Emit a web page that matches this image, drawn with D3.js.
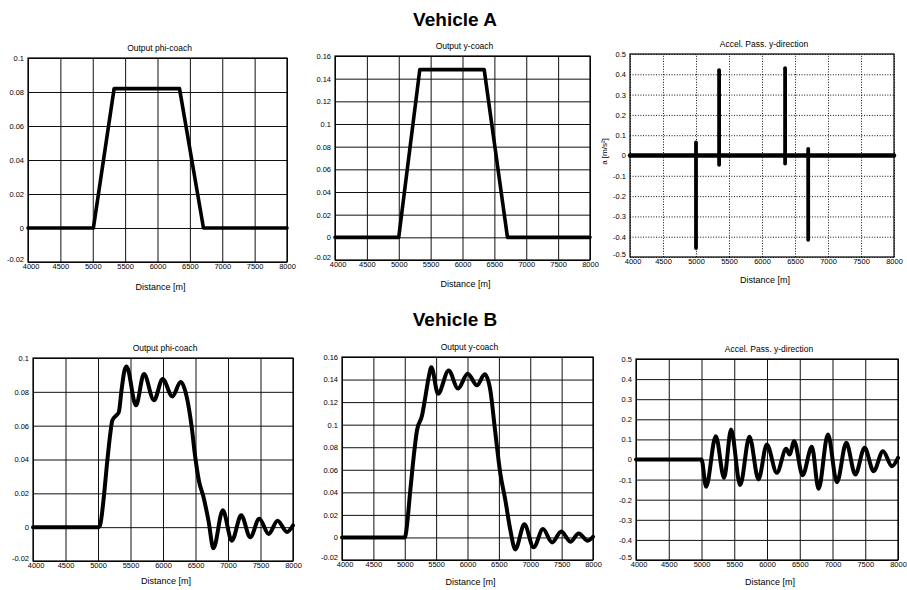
<!DOCTYPE html>
<html><head><meta charset="utf-8">
<script src="https://cdn.jsdelivr.net/npm/d3@7"></script>
<style>
body{margin:0;background:#fff;}
svg text{font-family:"Liberation Sans",Arial,Helvetica,sans-serif;fill:#000;}
</style>
</head><body>
<svg id="c" width="907" height="590"></svg>
<script>
// ---- tick values ----
const xTicks = [4000, 4500, 5000, 5500, 6000, 6500, 7000, 7500, 8000];
const phiTicks = [-0.02, 0, 0.02, 0.04, 0.06, 0.08, 0.1];
const yCoachTicks = [-0.02, 0, 0.02, 0.04, 0.06, 0.08, 0.1, 0.12, 0.14, 0.16];
const accTicks = [-0.5, -0.4, -0.3, -0.2, -0.1, 0, 0.1, 0.2, 0.3, 0.4, 0.5];

// ---- Vehicle A ----
const phiA_x = [4000, 5010, 5330, 6340, 6710, 8000];
const phiA_y = [0, 0, 0.082, 0.082, 0, 0];
const yA_x = [4000, 5000, 5330, 6340, 6705, 8000];
const yA_y = [0, 0, 0.148, 0.148, 0, 0];
const accA_x = [4000, 8000];
const accA_y = [0, 0];
const spikeA_x = [5000, 5350, 6350, 6700];
const spikeA_hi = [0.064, 0.42, 0.43, 0.033];
const spikeA_lo = [-0.456, -0.046, -0.04, -0.415];

// ---- Vehicle B ----
const phiB_x = [4000, 5000, 5030, 5090, 5140, 5195, 5220, 5280, 5320, 5362, 5410, 5440, 5584, 5707, 5861, 5995, 6144, 6272, 6365, 6442, 6494, 6555, 6622, 6699, 6776, 6920, 7059, 7203, 7342, 7481, 7625, 7763, 7907, 8000];
const phiB_y = [0, 0, 0.001, 0.018, 0.038, 0.057, 0.063, 0.066, 0.068, 0.081, 0.093, 0.095, 0.072, 0.0905, 0.075, 0.0876, 0.0773, 0.0858, 0.077, 0.059, 0.042, 0.027, 0.018, 0.004, -0.0125, 0.010, -0.008, 0.007, -0.006, 0.005, -0.004, 0.0038, -0.0028, 0.001];
const yB_x = [4000, 5000, 5009, 5089, 5142, 5195, 5275, 5328, 5381, 5424, 5530, 5700, 5849, 6003, 6151, 6274, 6364, 6433, 6523, 6603, 6683, 6762, 6906, 7054, 7203, 7347, 7495, 7639, 7772, 7915, 8000];
const yB_y = [0, 0, 0.001, 0.042, 0.0714, 0.095, 0.108, 0.1245, 0.142, 0.151, 0.1274, 0.148, 0.132, 0.1452, 0.135, 0.1446, 0.1304, 0.098, 0.0567, 0.0331, 0.0065, -0.0106, 0.0116, -0.0088, 0.0074, -0.0044, 0.0053, -0.0038, 0.0036, -0.0029, 0.0006];
const accB_x = [4000, 5000, 5070, 5218, 5345, 5452, 5590, 5732, 5870, 5997, 6150, 6293, 6344, 6415, 6543, 6685, 6787, 6930, 7068, 7210, 7348, 7490, 7628, 7771, 7908, 8000];
const accB_y = [0, 0, -0.136, 0.116, -0.091, 0.149, -0.127, 0.113, -0.099, 0.0745, -0.066, 0.053, 0.025, 0.091, -0.078, 0.063, -0.146, 0.124, -0.113, 0.083, -0.075, 0.058, -0.058, 0.041, -0.033, 0.008];

const svg = d3.select('#c');
svg.append('rect').attr('width', 907).attr('height', 590).attr('fill', '#fff');

const fmtY = v => String(+v.toFixed(2));

function panel(p) {
  const w = p.r - p.l, h = p.b - p.t;
  const g = svg.append('g').attr('transform', `translate(${p.l},${p.t})`);
  const x = d3.scaleLinear().domain([4000, 8000]).range([0, w]);
  const y = d3.scaleLinear().domain([p.ticks[0], p.ticks[p.ticks.length - 1]]).range([h, 0]);
  const dash = p.dotted ? '1,1.6' : null;

  const gx = g.append('g').attr('transform', `translate(0,${h})`)
    .call(d3.axisBottom(x).tickValues(xTicks).tickSize(-h).tickPadding(2).tickFormat(d3.format('d')));
  gx.select('.domain').remove();
  gx.selectAll('line').attr('stroke', '#111').attr('stroke-width', 1).attr('stroke-dasharray', dash);
  gx.selectAll('text').attr('font-size', 7.5).attr('fill', '#000');
  gx.selectAll('.tick').filter(d => d === 4000).select('text').attr('dx', '0.35em');

  const gy = g.append('g')
    .call(d3.axisLeft(y).tickValues(p.ticks).tickSize(-w).tickPadding(4).tickFormat(fmtY));
  gy.select('.domain').remove();
  gy.selectAll('line').attr('stroke', '#111').attr('stroke-width', 1).attr('stroke-dasharray', dash);
  gy.selectAll('text').attr('font-size', 7.5).attr('fill', '#000');
  gy.selectAll('.tick').filter(d => d === p.ticks[0]).select('text').attr('dy', '-0.05em');

  g.append('rect').attr('width', w).attr('height', h).attr('fill', 'none').attr('stroke', '#000').attr('stroke-width', 1.2);

  const line = d3.line().x(d => x(d[0])).y(d => y(d[1])).curve(p.smooth ? d3.curveMonotoneX : d3.curveLinear);
  p.series.forEach(s => {
    const pts = s.xs.map((v, i) => [v, s.ys[i]]);
    g.append('path').attr('d', line(pts)).attr('fill', 'none').attr('stroke', '#000')
      .attr('stroke-width', s.sw).attr('stroke-linejoin', 'round').attr('stroke-linecap', 'round');
  });
  if (p.spikes) {
    const sl = d3.line().x(d => x(d[0])).y(d => y(d[1]));
    p.spikes.xs.forEach((sx, i) => {
      g.append('path').attr('d', sl([[sx, p.spikes.lo[i]], [sx, p.spikes.hi[i]]]))
        .attr('fill', 'none').attr('stroke', '#000').attr('stroke-width', 3.8).attr('stroke-linecap', 'round');
    });
  }

  svg.append('text').attr('x', (p.l + p.r) / 2 + 2).attr('y', p.t - 7).attr('text-anchor', 'middle')
    .attr('font-size', 8.5).text(p.title);
  svg.append('text').attr('x', (p.l + p.r) / 2 + 3).attr('y', p.xlY).attr('text-anchor', 'middle')
    .attr('font-size', 9).text('Distance [m]');
  if (p.ylabel) {
    svg.append('text').attr('transform', `translate(${p.ylX},${(p.t + p.b) / 2 - 4}) rotate(-90)`)
      .attr('text-anchor', 'middle').attr('font-size', 8).text(p.ylabel);
  }
}

svg.append('text').attr('x', 455).attr('y', 26).attr('text-anchor', 'middle')
  .attr('font-size', 19).attr('font-weight', 'bold').text('Vehicle A');
svg.append('text').attr('x', 455).attr('y', 326).attr('text-anchor', 'middle')
  .attr('font-size', 19).attr('font-weight', 'bold').text('Vehicle B');

panel({l: 28, r: 287, t: 58, b: 262, ticks: phiTicks, title: 'Output phi-coach', xlY: 290,
  series: [{xs: phiA_x, ys: phiA_y, sw: 3.6}]});
panel({l: 335, r: 590, t: 56, b: 260, ticks: yCoachTicks, title: 'Output y-coach', xlY: 287,
  series: [{xs: yA_x, ys: yA_y, sw: 3.6}]});
panel({l: 630, r: 894, t: 54, b: 257, ticks: accTicks, title: 'Accel. Pass. y-direction', xlY: 283, dotted: true,
  ylabel: 'a [m/s²]', ylX: 607,
  series: [{xs: accA_x, ys: accA_y, sw: 4.5}],
  spikes: {xs: spikeA_x, hi: spikeA_hi, lo: spikeA_lo}});
panel({l: 33, r: 293, t: 358, b: 561, ticks: phiTicks, title: 'Output phi-coach', xlY: 584, smooth: true,
  series: [{xs: phiB_x, ys: phiB_y, sw: 4}]});
panel({l: 342, r: 593, t: 357, b: 560, ticks: yCoachTicks, title: 'Output y-coach', xlY: 585, smooth: true,
  series: [{xs: yB_x, ys: yB_y, sw: 4}]});
panel({l: 636, r: 898, t: 359, b: 560, ticks: accTicks, title: 'Accel. Pass. y-direction', xlY: 585, smooth: true,
  series: [{xs: accB_x, ys: accB_y, sw: 4}]});
</script>
</body></html>
